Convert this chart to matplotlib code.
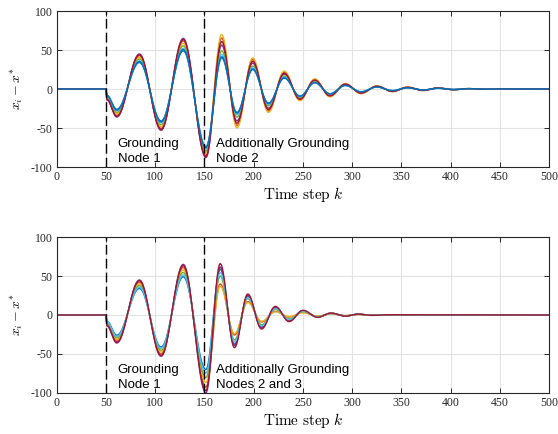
import matplotlib
matplotlib.use("Agg")
import matplotlib.pyplot as plt
import numpy as np

plt.rcParams['mathtext.fontset'] = 'cm'
plt.rcParams['axes.unicode_minus'] = False

# MATLAB default colour order
colors = ['#0072BD', '#D95319', '#EDB120', '#7E2F8E', '#77AC30', '#4DBEEE', '#A2142F']

# ---- data: extrema of the trajectories ----
# top panel (grounding node 1, then node 2)
top_k = [0, 50, 51, 61, 84, 106, 128.5, 151.5, 167.5, 183, 199, 215, 231, 247, 262,
         277.5, 293, 309, 325, 341, 356, 372, 387, 403, 418, 434, 450, 500]
top_lo = [0, 0, -8, -26, 34, -41, 49, -74, 40, -30, 25, -18, 14, -9, 8,
          -6, 4.5, -3.5, 2.5, -2, 1.5, -1.2, 0.9, -0.6, 0.4, -0.2, 0.1, 0]
top_hi = [0, 0, -14, -36, 45, -53, 65, -88, 70, -50, 40, -30, 23, -15, 13,
          -10, 7, -6, 4, -3.5, 2.5, -2, 1.5, -1, 0.6, -0.4, 0.2, 0]
# where each agent sits between lo and hi (before / after k=150)
top_w1 = [0.0, 0.8, 0.6, 1.0, 0.4, 0.2, 0.9, 0.1]
top_w2 = [0.0, 0.85, 1.0, 0.55, 0.3, 0.15, 0.7, 0.05]

# bottom panel (grounding node 1, then nodes 2 and 3)
bot_k = [0, 50, 51, 61, 84, 106, 128.5, 151.5, 166, 180.5, 194, 208, 222, 236, 250,
         265, 278.5, 293, 306, 320, 335, 500]
bot_lo = [0, 0, -8, -26, 34, -41, 49, -70, 37, -24, 16, -8, 4, -2, 3,
          -1.5, 1.5, -0.7, 0.6, -0.2, 0.1, 0]
bot_hi = [0, 0, -14, -36, 45, -53, 65, -100, 66, -42, 27, -18, 11, -8.5, 6,
          -3, 2.5, -1.5, 1.2, -0.5, 0.3, 0]
bot_w1 = [0.0, 0.75, 0.55, 1.0, 0.35, 0.15, 0.9]
bot_w2 = [0.75, 0.1, 0.0, 0.85, 0.45, 0.6, 1.0]

steps = np.arange(0, 501)


def trajectory(keys, lo, hi, w1, w2, split=152):
    vals = [l + (w1 if kk <= split else w2) * (h - l) for kk, l, h in zip(keys, lo, hi)]
    y = np.zeros(len(steps))
    for a in range(len(keys) - 1):
        ka, kb = keys[a], keys[a + 1]
        m = (steps >= ka) & (steps <= kb)
        t = (steps[m] - ka) / (kb - ka)
        y[m] = vals[a] + (vals[a + 1] - vals[a]) * (1 - np.cos(np.pi * t)) / 2
    return y


fig = plt.figure(figsize=(5.58, 4.34), dpi=100)
ax1 = fig.add_axes([0.1016, 0.6152, 0.8826, 0.3594])
ax2 = fig.add_axes([0.1016, 0.0945, 0.8826, 0.3594])

panels = [
    (ax1, top_k, top_lo, top_hi, top_w1, top_w2, 'Additionally Grounding\nNode 2'),
    (ax2, bot_k, bot_lo, bot_hi, bot_w1, bot_w2, 'Additionally Grounding\nNodes 2 and 3'),
]

for ax, kk, lo, hi, w1, w2, label2 in panels:
    for i in range(len(w1)):
        y = trajectory(kk, lo, hi, w1[i], w2[i])
        ax.plot(steps, y, color=colors[i % len(colors)], lw=1.0)

    for xv in [50, 150]:
        ax.axvline(xv, color='black', lw=1.0, dashes=(7, 3))

    ax.text(62, -63, 'Grounding\nNode 1', ha='left', va='top', fontsize=9.5,
            family='Liberation Sans', linespacing=1.3)
    ax.text(162, -63, label2, ha='left', va='top', fontsize=9.5,
            family='Liberation Sans', linespacing=1.3)

    ax.set_xlim(0, 500)
    ax.set_ylim(-100, 100)
    ax.set_xticks(np.arange(0, 501, 50))
    ax.set_yticks([-100, -50, 0, 50, 100])
    ax.grid(True, color='#e3e3e3', lw=0.8)
    ax.set_axisbelow(True)
    ax.tick_params(direction='in', length=3.5, width=0.7, top=True, right=True,
                   labelsize=8.5, colors='#262626', pad=3)
    for lab in ax.get_xticklabels() + ax.get_yticklabels():
        lab.set_family('Liberation Serif')
    for s in ax.spines.values():
        s.set_color('#262626')
        s.set_linewidth(0.8)
    ax.set_xlabel(r'$\mathrm{Time\ step}\ k$', fontsize=11, labelpad=1)
    ax.set_ylabel(r'$x_i - x^{*}$', fontsize=10, labelpad=4)

fig.savefig('out.png', dpi=100)
